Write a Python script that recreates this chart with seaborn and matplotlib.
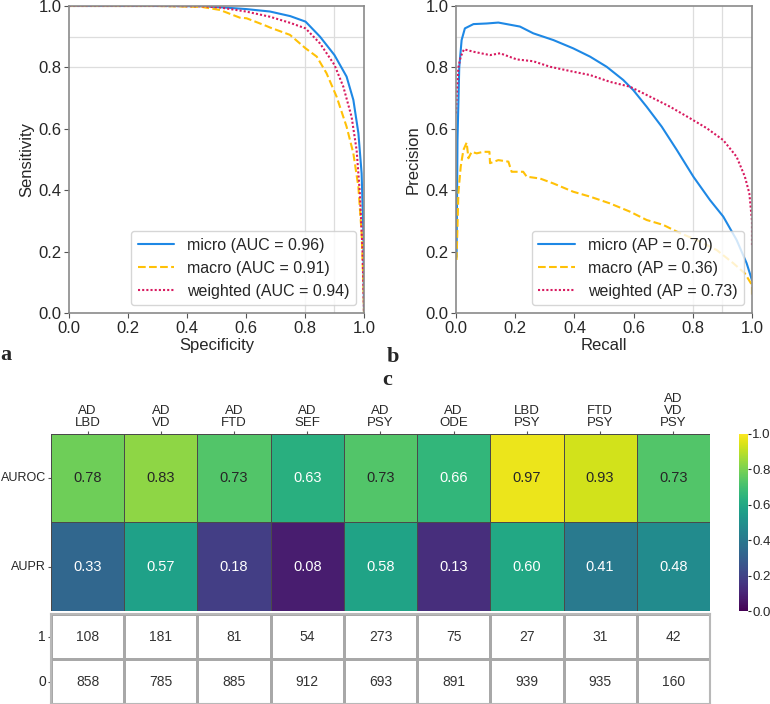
import numpy as np
import pandas as pd
import matplotlib
matplotlib.use("Agg")
import matplotlib.pyplot as plt
from matplotlib.colors import ListedColormap
import seaborn as sns

# ROC curves (specificity, sensitivity)
roc_micro_spec = [0.0, 0.3, 0.45, 0.512, 0.60, 0.681, 0.75, 0.802, 0.851, 0.90, 0.941, 0.964, 0.981, 0.992, 0.998, 1.0]
roc_micro_sens = [1.0, 1.0, 0.999, 0.996, 0.990, 0.982, 0.967, 0.949, 0.900, 0.840, 0.770, 0.694, 0.586, 0.455, 0.26, 0.0]
roc_macro_spec = [0.0, 0.3, 0.45, 0.512, 0.579, 0.602, 0.669, 0.681, 0.749, 0.802, 0.84, 0.873, 0.907, 0.941, 0.964, 0.981, 0.992, 0.998, 1.0]
roc_macro_sens = [1.0, 1.0, 0.997, 0.987, 0.962, 0.960, 0.935, 0.930, 0.906, 0.862, 0.835, 0.781, 0.705, 0.607, 0.52, 0.411, 0.26, 0.097, 0.0]
roc_weighted_spec = [0.0, 0.3, 0.45, 0.512, 0.60, 0.681, 0.75, 0.802, 0.851, 0.90, 0.93, 0.958, 0.975, 0.986, 0.995, 1.0]
roc_weighted_sens = [1.0, 1.0, 0.999, 0.995, 0.982, 0.965, 0.945, 0.927, 0.878, 0.808, 0.737, 0.639, 0.531, 0.39, 0.205, 0.0]

# PR curves (recall, precision)
pr_micro_rec = [0.002, 0.005, 0.011, 0.019, 0.030, 0.059, 0.104, 0.143, 0.216, 0.261, 0.329, 0.396, 0.453,
                0.509, 0.565, 0.599, 0.644, 0.695, 0.746, 0.802, 0.858, 0.903, 0.948, 0.982, 1.0]
pr_micro_prec = [0.183, 0.563, 0.80, 0.889, 0.927, 0.941, 0.943, 0.946, 0.933, 0.911, 0.889, 0.862, 0.835,
                 0.802, 0.759, 0.726, 0.672, 0.607, 0.531, 0.444, 0.368, 0.314, 0.238, 0.162, 0.107]
pr_macro_rec = [0.002, 0.008, 0.016, 0.025, 0.036, 0.042, 0.053, 0.07, 0.092, 0.113,
                0.115, 0.143, 0.177, 0.188, 0.227, 0.239, 0.284, 0.329, 0.396, 0.453,
                0.52, 0.588, 0.644, 0.70, 0.757, 0.813, 0.881, 0.937, 0.976, 1.0, 1.0]
pr_macro_prec = [0.173, 0.39, 0.477, 0.531, 0.555, 0.504, 0.525, 0.52, 0.525, 0.525,
                 0.488, 0.498, 0.493, 0.46, 0.46, 0.444, 0.438, 0.422, 0.395, 0.379,
                 0.357, 0.33, 0.303, 0.287, 0.26, 0.238, 0.205, 0.162, 0.129, 0.091, 0.06]
pr_weighted_rec = [0.0, 0.003, 0.008, 0.016, 0.027, 0.059, 0.115, 0.149, 0.205, 0.261, 0.318, 0.396, 0.453,
                   0.520, 0.588, 0.655, 0.723, 0.791, 0.847, 0.903, 0.948, 0.976, 0.991, 1.0, 1.0]
pr_weighted_prec = [0.65, 0.72, 0.80, 0.835, 0.859, 0.851, 0.840, 0.846, 0.826, 0.82, 0.802, 0.786, 0.775,
                    0.753, 0.737, 0.705, 0.672, 0.634, 0.602, 0.563, 0.509, 0.444, 0.39, 0.30, 0.216]

# Heatmap data
pairs = ["AD\nLBD", "AD\nVD", "AD\nFTD", "AD\nSEF", "AD\nPSY", "AD\nODE", "LBD\nPSY", "FTD\nPSY", "AD\nVD\nPSY"]
auroc = [0.78, 0.83, 0.73, 0.63, 0.73, 0.66, 0.97, 0.93, 0.73]
aupr = [0.33, 0.57, 0.18, 0.08, 0.58, 0.13, 0.60, 0.41, 0.48]
n_pos = [108, 181, 81, 54, 273, 75, 27, 31, 42]
n_neg = [858, 785, 885, 912, 693, 891, 939, 935, 160]

sns.set_style("ticks")
plt.rcParams['font.family'] = ['Liberation Sans', 'DejaVu Sans']

blue, gold, pink = "#1E88E5", "#FFC107", "#D81B60"

fig = plt.figure(figsize=(7.7, 7.04), dpi=100)
ax_roc = fig.add_axes([0.0896, 0.5554, 0.3831, 0.4361])
ax_pr = fig.add_axes([0.5922, 0.5554, 0.3844, 0.4361])


def style_curve_axes(ax, xlabel, ylabel):
    for v in [0.8, 0.9]:
        ax.axhline(v, color="#dddddd", lw=0.9, zorder=0)
        ax.axvline(v, color="#dddddd", lw=0.9, zorder=0)
    ax.set_xlim(0, 1)
    ax.set_ylim(0, 1)
    ax.set_xticks(np.arange(0, 1.01, 0.2))
    ax.set_yticks(np.arange(0, 1.01, 0.2))
    ax.tick_params(labelsize=12, length=3.5, color="#555555", pad=2)
    ax.set_xlabel(xlabel, fontsize=12, labelpad=2)
    ax.set_ylabel(ylabel, fontsize=12, labelpad=3)
    for s in ax.spines.values():
        s.set_color("#8a8a8a")
        s.set_linewidth(1.2)
    ax.legend(loc="lower right", fontsize=11.5, handlelength=2.3, edgecolor="#cccccc")


# ROC panel
sns.lineplot(x=roc_micro_spec, y=roc_micro_sens, ax=ax_roc, color=blue, lw=1.5, sort=False,
             estimator=None, label="micro (AUC = 0.96)")
sns.lineplot(x=roc_macro_spec, y=roc_macro_sens, ax=ax_roc, color=gold, lw=1.5, linestyle="--", sort=False,
             estimator=None, label="macro (AUC = 0.91)")
sns.lineplot(x=roc_weighted_spec, y=roc_weighted_sens, ax=ax_roc, color=pink, lw=1.5, linestyle=(0, (1, 1)),
             sort=False, estimator=None, label="weighted (AUC = 0.94)")
style_curve_axes(ax_roc, "Specificity", "Sensitivity")

# PR panel
sns.lineplot(x=pr_micro_rec, y=pr_micro_prec, ax=ax_pr, color=blue, lw=1.5, sort=False,
             estimator=None, label="micro (AP = 0.70)")
sns.lineplot(x=pr_macro_rec, y=pr_macro_prec, ax=ax_pr, color=gold, lw=1.5, linestyle="--", sort=False,
             estimator=None, label="macro (AP = 0.36)")
sns.lineplot(x=pr_weighted_rec, y=pr_weighted_prec, ax=ax_pr, color=pink, lw=1.5, linestyle=(0, (1, 1)),
             sort=False, estimator=None, label="weighted (AP = 0.73)")
style_curve_axes(ax_pr, "Recall", "Precision")

# Heatmap of AUROC / AUPR
ax_hm = fig.add_axes([0.0662, 0.1321, 0.8558, 0.2521])
cax = fig.add_axes([0.9597, 0.1321, 0.0117, 0.2521])
scores = pd.DataFrame([auroc, aupr], index=["AUROC", "AUPR"], columns=pairs)
sns.heatmap(scores, ax=ax_hm, cbar_ax=cax, cmap="viridis", vmin=0, vmax=1, annot=True, fmt=".2f",
            linewidths=0.7, linecolor="#4a4a4a", annot_kws={"fontsize": 10.5})
ax_hm.xaxis.tick_top()
ax_hm.set_xticklabels(pairs, rotation=0, fontsize=9.5, linespacing=1.0)
ax_hm.set_yticklabels(["AUROC", "AUPR"], rotation=0, fontsize=9)
ax_hm.tick_params(length=2.5, color="#555555", pad=1)
cax.tick_params(labelsize=9.5, length=2.5, pad=0.5)
cax.set_yticks(np.arange(0, 1.01, 0.2))

# Count table
ax_tb = fig.add_axes([0.0662, 0.0, 0.8558, 0.1278])
counts = pd.DataFrame([n_pos, n_neg], index=["1", "0"], columns=pairs)
sns.heatmap(counts, ax=ax_tb, cmap=ListedColormap(["white"]), cbar=False, annot=True, fmt="d",
            linewidths=1.0, linecolor="#a8a8a8", annot_kws={"fontsize": 10, "color": "#333333"})
ax_tb.set_xticks([])
ax_tb.set_yticklabels(["1", "0"], rotation=0, fontsize=10)
ax_tb.tick_params(length=2.5, color="#555555", pad=1)
for s in ax_tb.spines.values():
    s.set_visible(True)
    s.set_color("#b8b8b8")
    s.set_linewidth(1.5)

# Panel labels
for txt, x, y in [("a", 6, 360), ("b", 393, 362), ("c", 387, 385)]:
    fig.text(x / 770, 1 - y / 704, txt, fontsize=16, fontweight="bold", family="Liberation Serif",
             ha="center", va="baseline")

fig.savefig("out.png", dpi=100)
